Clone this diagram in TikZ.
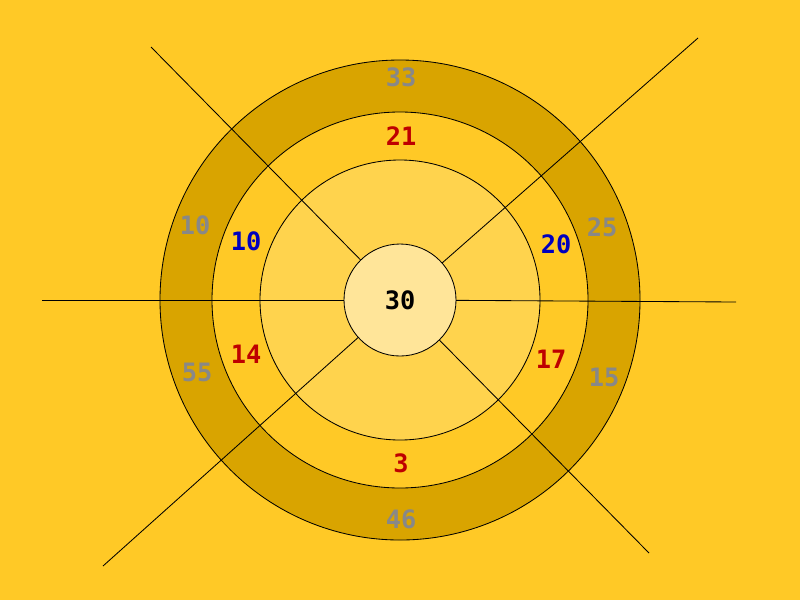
\documentclass[tikz,border=0pt]{standalone}
\usepackage{fontspec}
\newfontfamily\digitfont{DejaVu Sans Mono}[BoldFont={DejaVu Sans Mono Bold}]
\usetikzlibrary{positioning}

\definecolor{bgyellow}{RGB}{255,201,38}
\definecolor{ringdark}{RGB}{217,164,0}
\definecolor{ringlight}{RGB}{255,211,77}
\definecolor{coreyellow}{RGB}{255,229,153}
\definecolor{numgray}{RGB}{136,136,136}
\definecolor{numred}{RGB}{190,0,0}
\definecolor{numblue}{RGB}{0,0,190}

\begin{document}
\begin{tikzpicture}[x=0.025cm, y=-0.025cm,
  ring/.style={draw, circle, inner sep=0pt, line width=0.6pt},
  spoke/.style={draw, line width=0.6pt},
  num/.style={font=\digitfont\bfseries\fontsize{18}{18}\selectfont, inner sep=0pt}
]
\fill[bgyellow] (0,0) rectangle (800,600);
\useasboundingbox (0,0) rectangle (800,600);

% rings, outside in
\node[ring, fill=ringdark, minimum size=480*0.025cm] (outer) at (400,300) {};
\node[ring, fill=bgyellow, minimum size=376*0.025cm] (middle) at (400,300) {};
\node[ring, fill=ringlight, minimum size=280*0.025cm] (inner) at (400,300) {};

% spokes
\coordinate (ctr) at (400,300);
\coordinate (tl) at (151,47);
\coordinate (tr) at (698,38);
\coordinate (le) at (42,300);
\coordinate (ri) at (736,302);
\coordinate (bl) at (103,566);
\coordinate (br) at (649,553);
\foreach \e in {tl,tr,le,ri,bl,br}
  \draw[spoke] (ctr) -- (\e);

\node[ring, fill=coreyellow, minimum size=112*0.025cm] (core) at (400,300) {};

% numbers
\node[num] (vcore) at (core) {30};
\node[num, numgray] (vtop) at (401,77) {33};
\node[num, numred] (mtop) at (401,136) {21};
\node[num, numgray] (vtl) at (195,225) {10};
\node[num, numblue] (mtl) at (246,241) {10};
\node[num, numblue] (mtr) at (556,244) {20};
\node[num, numgray] (vtr) at (602,227) {25};
\node[num, numred] (mbl) at (246,354) {14};
\node[num, numgray] (vbl) at (197,372) {55};
\node[num, numred] (mbr) at (551,359) {17};
\node[num, numgray] (vbr) at (604,377) {15};
\node[num, numred] (mbot) at (401,463) {3};
\node[num, numgray] (vbot) at (401,519) {46};
\end{tikzpicture}
\end{document}
